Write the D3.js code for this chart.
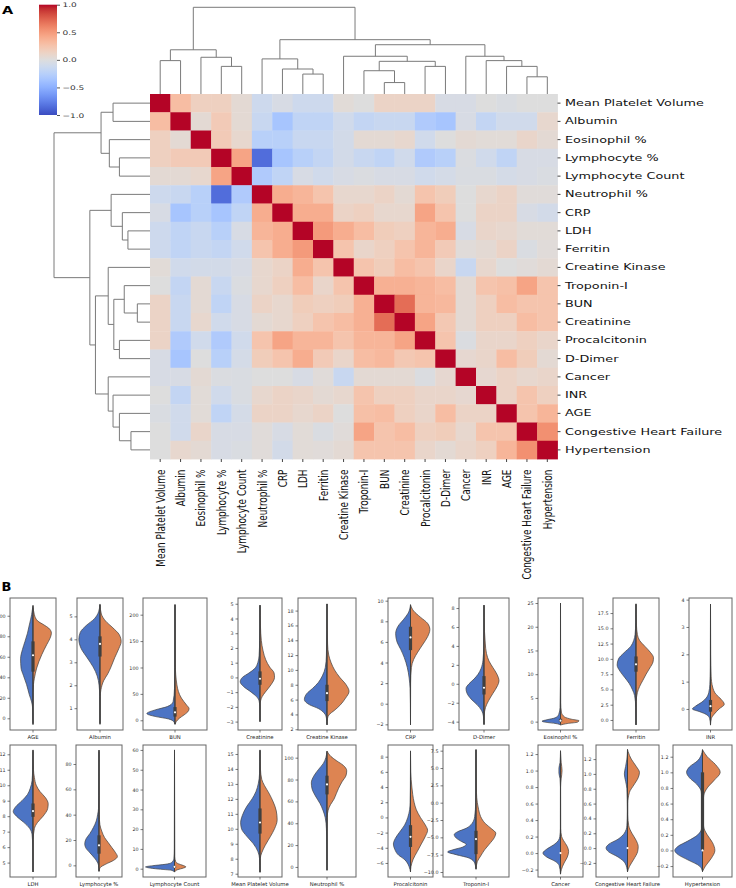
<!DOCTYPE html>
<html><head><meta charset="utf-8">
<script src="https://cdn.jsdelivr.net/npm/d3@7"></script>
<style>body{margin:0;background:#fff;} svg{display:block;font-family:"DejaVu Sans",sans-serif;}</style>
</head><body><svg id="c" width="736" height="888"></svg>
<script>
// ---------- Panel A data ----------
const labels = ["Mean Platelet Volume","Albumin","Eosinophil %","Lymphocyte %","Lymphocyte Count","Neutrophil %","CRP","LDH","Ferritin","Creatine Kinase","Troponin-I","BUN","Creatinine","Procalcitonin","D-Dimer","Cancer","INR","AGE","Congestive Heart Failure","Hypertension"];
// upper triangle of correlation matrix, row i holds columns i..19
const corrUpper = [
 [1,0.30,0.15,0.15,0.05,-0.12,-0.05,-0.12,-0.12,0.03,0.0,0.12,0.12,0.12,-0.05,-0.05,0.0,-0.03,0.0,0.0],
 [1,0.05,0.2,0.05,-0.15,-0.35,-0.2,-0.2,-0.1,-0.18,-0.15,-0.15,-0.3,-0.35,-0.05,-0.18,-0.1,-0.1,0.08],
 [1,0.2,0.08,-0.25,-0.25,-0.15,-0.15,-0.08,0.05,0.05,0.08,-0.1,0.0,0.05,0.03,0.03,0.1,0.05],
 [1,0.45,-0.85,-0.35,-0.25,-0.18,-0.08,-0.15,-0.2,-0.1,-0.3,-0.25,-0.02,-0.1,-0.2,-0.05,-0.05],
 [1,-0.3,-0.2,-0.05,-0.1,-0.05,-0.02,-0.05,-0.05,-0.1,-0.07,-0.03,-0.03,-0.07,-0.05,-0.03],
 [1,0.4,0.35,0.25,0.08,0.08,0.12,0.05,0.25,0.18,0.0,0.08,0.12,0.02,0.02],
 [1,0.4,0.4,0.12,0.15,0.08,0.08,0.45,0.25,0.0,0.12,0.12,-0.05,-0.08],
 [1,0.5,0.4,0.3,0.18,0.15,0.35,0.4,-0.05,0.1,0.08,0.03,0.03],
 [1,0.25,0.1,0.15,0.25,0.35,0.2,0.02,0.05,0.12,-0.03,0.02],
 [1,0.25,0.18,0.3,0.25,0.1,-0.15,0.08,0.0,0.02,0.05],
 [1,0.38,0.38,0.35,0.3,0.05,0.25,0.28,0.45,0.25],
 [1,0.7,0.35,0.33,0.05,0.15,0.3,0.25,0.25],
 [1,0.45,0.22,0.05,0.15,0.15,0.3,0.25],
 [1,0.25,-0.02,0.1,0.1,0.15,0.1],
 [1,0.07,0.1,0.3,0.18,0.05],
 [1,0.07,0.12,0.08,0.1],
 [1,0.12,0.25,0.15],
 [1,0.25,0.35],
 [1,0.55],
 [1]
];
// hierarchical linkage: [childA, childB, distance]; leaves 0..19, merged nodes 20..
const linkage = [
 [11,12,0.113],[18,19,0.17],[7,8,0.197],[10,20,0.23],[6,22,0.247],[3,4,0.273],[13,14,0.273],
 [17,21,0.273],[23,26,0.323],[0,1,0.33],[16,27,0.33],[5,24,0.347],[2,25,0.363],[9,28,0.373],
 [15,30,0.373],[29,32,0.437],[33,34,0.487],[31,36,0.537],[35,37,0.857]
];
const cbarTicks = [1.0,0.5,0.0,-0.5,-1.0];
const coolwarm = ["#3b4cc0","#445acc","#4d68d7","#5775e1","#6282ea","#6c8ef1","#779af7","#82a5fb","#8db0fe","#98b9ff","#a3c2ff","#aec9fd","#b8d0f9","#c2d5f4","#ccd9ee","#d5dbe6","#dddddd","#e5d8d1","#ecd3c5","#f1ccb9","#f5c4ad","#f7bba0","#f7b194","#f7a687","#f49a7b","#f18d6f","#ec7f63","#e57058","#de604d","#d55042","#cb3e38","#c0282f","#b40426"];

// ---------- Panel B data ----------
const violinVars = ["AGE","Albumin","BUN","Creatinine","Creatine Kinase","CRP","D-Dimer","Eosinophil %","Ferritin","INR",
 "LDH","Lymphocyte %","Lymphocyte Count","Mean Platelet Volume","Neutrophil %","Procalcitonin","Troponin-I","Cancer","Congestive Heart Failure","Hypertension"];
const violinDomains = [[-11.4,117.3],[0.05,5.8],[-18.4,231.6],[-3.57,5.39],[1.9,19.7],[-2.55,10.26],[-4.88,9.06],[-1.76,26.06],[-1.64,19.96],[-0.77,4.06],
 [4.07,12.6],[-9.2,95],[-4.2,62.5],[6.78,15.6],[-9.2,111.6],[-7.85,9.54],[-10.72,8.32],[-0.29,1.31],[-0.39,1.39],[-0.34,1.35]];
const violinTicks = [[0,20,40,60,80,100],[1,2,3,4,5],[0,50,100,150,200],[-3,-2,-1,0,1,2,3,4,5],[2,4,6,8,10,12,14,16,18],
 [-2,0,2,4,6,8,10],[-4,-2,0,2,4,6,8],[0,5,10,15,20,25],[0,2.5,5,7.5,10,12.5,15,17.5],[0,1,2,3,4],
 [5,6,7,8,9,10,11,12],[0,20,40,60,80],[0,10,20,30,40,50,60],[7,8,9,10,11,12,13,14,15],[0,20,40,60,80,100],
 [-6,-4,-2,0,2,4,6,8],[-10,-7.5,-5,-2.5,0,2.5,5,7.5],[-0.2,0,0.2,0.4,0.6,0.8,1.0,1.2],[-0.2,0,0.2,0.4,0.6,0.8,1.0,1.2],[-0.2,0,0.2,0.4,0.6,0.8,1.0,1.2]];
const violinTickDecimals = [0,0,0,0,0,0,0,0,1,0, 0,0,0,0,0,0,1,1,1,1];
// [value, half-width as fraction of panel width]
const blueProfiles = [
 [[-6,0],[10,0.008],[16,0.03],[23,0.08],[33,0.14],[42,0.21],[49,0.26],[58,0.27],[67,0.23],[75,0.174],[83,0.12],[91,0.08],[101,0.03],[110,0]],
 [[0.3,0],[1.5,0.005],[2.0,0.02],[2.4,0.06],[2.8,0.15],[3.2,0.28],[3.6,0.41],[4.0,0.46],[4.3,0.43],[4.6,0.3],[4.9,0.12],[5.2,0.03],[5.54,0]],
 [[-7.6,0],[-2.5,0.02],[2.5,0.1],[7,0.3],[12.7,0.44],[20,0.3],[26,0.12],[35,0.03],[60,0.008],[100,0.004],[219,0]],
 [[-3.0,0],[-2,0.005],[-1.6,0.02],[-1.3,0.08],[-1.0,0.2],[-0.6,0.38],[-0.3,0.45],[0,0.4],[0.3,0.25],[0.6,0.12],[1.0,0.05],[1.5,0.02],[2.5,0.008],[4.9,0]],
 [[2.6,0],[3.5,0.01],[4.2,0.05],[4.8,0.15],[5.3,0.3],[6.0,0.39],[6.8,0.35],[7.5,0.25],[8.3,0.15],[9.2,0.08],[10.3,0.03],[12,0.01],[18.9,0]],
 [[-2.05,0],[0,0.003],[1.5,0.01],[2.5,0.03],[3.5,0.07],[4.5,0.14],[5.3,0.22],[6,0.3],[6.8,0.33],[7.5,0.28],[8.2,0.15],[8.8,0.05],[9.6,0]],
 [[-4.3,0],[-3.5,0.01],[-2.8,0.05],[-2.2,0.14],[-1.6,0.26],[-1,0.34],[-0.5,0.36],[0,0.3],[0.5,0.2],[1,0.12],[1.6,0.06],[2.5,0.02],[4,0.005],[8.3,0]],
 [[-0.7,0],[-0.4,0.1],[-0.1,0.35],[0.1,0.41],[0.4,0.3],[0.8,0.12],[1.5,0.04],[3,0.01],[8,0.002],[25,0]],
 [[-0.8,0],[2,0.005],[4,0.03],[5,0.08],[6,0.15],[7,0.25],[8,0.35],[9,0.41],[10,0.38],[11,0.26],[12,0.12],[13,0.05],[14,0.02],[16,0.005],[19,0]],
 [[-0.59,0],[-0.35,0.02],[-0.2,0.1],[-0.1,0.25],[0,0.42],[0.1,0.35],[0.25,0.2],[0.4,0.1],[0.6,0.04],[0.9,0.015],[1.5,0.005],[3.84,0]],
 [[4.4,0],[6,0.005],[6.8,0.02],[7.2,0.07],[7.6,0.2],[8,0.36],[8.3,0.43],[8.6,0.38],[9,0.24],[9.4,0.12],[9.8,0.06],[10.3,0.02],[11,0.008],[12.28,0]],
 [[-4.75,0],[0,0.01],[5,0.08],[10,0.2],[14,0.29],[17,0.31],[21,0.28],[25,0.2],[30,0.12],[35,0.06],[40,0.03],[45,0.01],[55,0.005],[91,0]],
 [[-1.7,0],[-0.8,0.05],[-0.2,0.25],[0.5,0.42],[0.9,0.46],[1.5,0.35],[2.2,0.15],[3,0.05],[5,0.01],[10,0.003],[60,0]],
 [[7.1,0],[8,0.01],[8.5,0.05],[9,0.15],[9.5,0.3],[10,0.42],[10.4,0.44],[10.9,0.4],[11.5,0.3],[12,0.18],[12.5,0.09],[13,0.04],[13.7,0.01],[15.27,0]],
 [[-3,0],[20,0.003],[35,0.01],[45,0.03],[52,0.07],[58,0.12],[65,0.2],[72,0.26],[77,0.27],[83,0.23],[89,0.15],[95,0.06],[100,0.02],[106,0]],
 [[-7.19,0],[-6.5,0.03],[-6.0,0.07],[-5.5,0.14],[-5.0,0.26],[-4.2,0.35],[-3.5,0.38],[-2.8,0.34],[-2,0.25],[-1,0.13],[0,0.06],[1,0.02],[2,0.008],[4,0.003],[8.76,0]],
 [[-9.6,0],[-8.7,0.02],[-8.0,0.1],[-7.5,0.3],[-7.1,0.43],[-6.8,0.35],[-6.4,0.2],[-6.0,0.15],[-5.6,0.22],[-5.1,0.3],[-4.6,0.33],[-4.2,0.28],[-3.7,0.15],[-3.0,0.06],[-2,0.02],[0,0.005],[7.66,0]],
 [[-0.255,0],[-0.15,0.03],[-0.1,0.12],[-0.05,0.3],[0,0.39],[0.05,0.3],[0.1,0.15],[0.15,0.05],[0.2,0.015],[0.3,0.003],[0.8,0.002],[0.9,0.01],[0.97,0.035],[1.03,0.035],[1.1,0.01],[1.24,0]],
 [[-0.32,0],[-0.2,0.04],[-0.12,0.15],[-0.05,0.3],[0,0.34],[0.05,0.3],[0.12,0.15],[0.2,0.05],[0.3,0.01],[0.5,0.003],[0.8,0.01],[0.9,0.03],[1.0,0.05],[1.1,0.03],[1.2,0.01],[1.33,0]],
 [[-0.27,0],[-0.2,0.05],[-0.12,0.25],[-0.05,0.42],[0,0.47],[0.05,0.42],[0.12,0.25],[0.2,0.08],[0.3,0.01],[0.5,0.003],[0.75,0.02],[0.85,0.1],[0.93,0.22],[1.0,0.27],[1.07,0.22],[1.15,0.08],[1.25,0.01],[1.29,0]]
];
const orangeProfiles = [
 [[-6,0],[25,0.003],[33,0.01],[39,0.03],[49,0.08],[62,0.19],[72,0.30],[78,0.37],[83,0.40],[88,0.34],[91,0.24],[95,0.1],[101,0.03],[110,0]],
 [[0.3,0],[1.5,0.005],[1.8,0.02],[2.2,0.08],[2.5,0.17],[2.8,0.24],[3.2,0.32],[3.6,0.41],[3.9,0.46],[4.2,0.42],[4.5,0.28],[4.8,0.12],[5.1,0.03],[5.5,0]],
 [[-7.6,0],[-2.5,0.02],[4,0.07],[10,0.14],[16,0.2],[22,0.22],[29,0.18],[42,0.1],[67,0.03],[105,0.005],[219,0]],
 [[-3,0],[-1.8,0.005],[-1.3,0.05],[-1,0.12],[-0.5,0.25],[0,0.33],[0.3,0.32],[0.7,0.22],[1.2,0.13],[1.8,0.07],[2.5,0.03],[3.5,0.01],[4.9,0]],
 [[2.6,0],[3.5,0.01],[4,0.04],[4.5,0.12],[5.2,0.22],[6.2,0.32],[7.1,0.38],[8,0.33],[9,0.22],[10,0.13],[11,0.07],[12,0.03],[13.5,0.01],[18.9,0]],
 [[-2.05,0],[2,0.003],[3.5,0.02],[4.3,0.07],[5,0.16],[5.8,0.28],[6.5,0.38],[7.2,0.43],[7.8,0.38],[8.4,0.22],[9,0.07],[9.6,0]],
 [[-4.3,0],[-3.3,0.005],[-2.5,0.03],[-1.8,0.09],[-1,0.18],[-0.2,0.27],[0.3,0.3],[1,0.26],[1.7,0.18],[2.4,0.1],[3.2,0.05],[4.3,0.025],[5.5,0.01],[7,0.004],[8.3,0]],
 [[-0.7,0],[-0.4,0.15],[-0.1,0.38],[0.2,0.41],[0.5,0.25],[1,0.09],[2,0.02],[4,0.005],[25,0]],
 [[-0.8,0],[3,0.005],[4.5,0.03],[5.5,0.08],[6.5,0.15],[7.5,0.22],[8.5,0.3],[9.5,0.37],[10.2,0.38],[11,0.32],[12,0.2],[13,0.08],[14,0.03],[15.5,0.01],[19,0]],
 [[-0.59,0],[-0.35,0.02],[-0.2,0.08],[0,0.2],[0.17,0.32],[0.35,0.25],[0.55,0.12],[0.8,0.05],[1.2,0.015],[2,0.005],[3.84,0]],
 [[4.4,0],[6.5,0.005],[7.2,0.03],[7.6,0.1],[8,0.22],[8.5,0.32],[8.8,0.33],[9.2,0.27],[9.6,0.15],[10,0.07],[10.5,0.03],[11,0.01],[12.28,0]],
 [[-4.75,0],[-2,0.02],[1,0.15],[4,0.32],[7,0.4],[10,0.36],[14,0.28],[18,0.2],[22,0.12],[27,0.06],[32,0.02],[40,0.005],[91,0]],
 [[-1.7,0],[-0.5,0.05],[0.3,0.14],[0.9,0.18],[1.6,0.14],[2.5,0.06],[3.5,0.02],[6,0.005],[60,0]],
 [[7.1,0],[8,0.005],[8.4,0.04],[8.9,0.12],[9.5,0.24],[10,0.33],[10.6,0.39],[11.2,0.37],[11.8,0.3],[12.4,0.2],[12.9,0.1],[13.3,0.04],[14,0.01],[15.27,0]],
 [[-3,0],[45,0.003],[52,0.02],[57,0.06],[62,0.12],[67,0.16],[72,0.2],[78,0.26],[84,0.33],[88,0.34],[93,0.28],[97,0.17],[101,0.07],[106,0]],
 [[-7.19,0],[-6.5,0.01],[-5.5,0.06],[-4.5,0.15],[-3.5,0.24],[-2.5,0.33],[-1.7,0.38],[-1,0.33],[0,0.22],[1,0.13],[2,0.08],[3,0.05],[4,0.03],[5,0.015],[6,0.006],[8.76,0]],
 [[-9.6,0],[-8.5,0.02],[-7.7,0.07],[-6.8,0.13],[-6,0.2],[-5,0.28],[-4.4,0.3],[-3.8,0.24],[-3,0.14],[-2,0.07],[-1,0.04],[0,0.02],[1.5,0.007],[7.66,0]],
 [[-0.255,0],[-0.2,0.02],[-0.12,0.08],[-0.05,0.15],[0.02,0.18],[0.08,0.15],[0.15,0.07],[0.2,0.025],[0.3,0.005],[0.8,0.003],[0.9,0.015],[1.0,0.035],[1.1,0.015],[1.24,0]],
 [[-0.32,0],[-0.25,0.03],[-0.15,0.1],[-0.05,0.16],[0.02,0.17],[0.1,0.14],[0.2,0.07],[0.3,0.02],[0.45,0.005],[0.6,0.005],[0.75,0.03],[0.85,0.1],[0.95,0.17],[1.02,0.19],[1.1,0.14],[1.2,0.06],[1.3,0.01],[1.33,0]],
 [[-0.27,0],[-0.2,0.05],[-0.1,0.15],[0,0.21],[0.1,0.17],[0.2,0.08],[0.3,0.02],[0.5,0.003],[0.7,0.02],[0.8,0.08],[0.9,0.2],[1.0,0.3],[1.1,0.22],[1.2,0.08],[1.29,0]]
];
// [whisker low, q1, median, q3, whisker high]
const boxStats = [[-5,45.5,61.5,75,108],[0.35,3.25,3.8,4.13,5.5],[-7,7,15,25,219],[-3.0,-0.5,-0.09,0.41,4.9],[2.6,5.8,6.86,8.0,18.9],
 [-2.0,5.2,6.43,7.47,9.6],[-4.3,-1.13,-0.42,0.81,8.3],[-0.5,0.0,0.2,0.6,24.8],[-0.8,7.9,9.1,10.4,18.9],[-0.55,-0.1,0.1,0.33,3.8],
 [4.4,7.96,8.33,8.82,12.2],[-4.5,9.2,15.8,23.7,90],[-1.5,0.5,0.95,1.4,59.5],[7.1,9.68,10.42,11.36,15.2],[-3,66.4,75.5,83.5,105],
 [-7.1,-3.89,-2.56,-1.02,8.7],[-9.5,-7.42,-5.25,-4.05,7.6],[-0.25,0,0,0,1.23],[-0.32,0,0,0,1.32],[-0.27,0,0,1,1.28]];

// ---------- layout ----------
const panelX = [[10,56],[77,123],[143,207],[238,282],[298,356],[388,433],[459,509],[538,583],[613,659],[689,732],
 [10,56],[76,122],[143,206],[238,282],[298,356],[388,433],[443,509],[538,583],[596,659],[673,732]];
const rowY = [[598,730],[745,877]];
const BLUE = "#4c74c4", ORANGE = "#dd8452", GRAY = "#3f3f3f";

const svg = d3.select("#c");
const n = labels.length;
const corr = d3.range(n).map(i => d3.range(n).map(j => i <= j ? corrUpper[i][j-i] : corrUpper[j][i-j]));
const color = d3.scaleLinear().domain(coolwarm.map((c,i) => -1 + 2*i/(coolwarm.length-1))).range(coolwarm).interpolate(d3.interpolateRgb).clamp(true);

const SY = 0.7; // vertical text squash of panel A
const xH = d3.scaleBand().domain(d3.range(n)).range([150, 557.5]);
const yH = d3.scaleBand().domain(d3.range(n)).range([94, 459]);

// heatmap
const cells = [];
corr.forEach((row,i) => row.forEach((v,j) => cells.push({i,j,v})));
svg.append("g").selectAll("rect").data(cells).join("rect")
  .attr("x", d => xH(d.j)).attr("y", d => yH(d.i))
  .attr("width", xH.bandwidth()+0.4).attr("height", yH.bandwidth()+0.4)
  .attr("fill", d => color(d.v));

// right axis
const ra = svg.append("g").attr("transform", `translate(${xH.range()[1]},0)`)
  .call(d3.axisRight(yH).tickSize(3).tickPadding(4.5).tickFormat(i => labels[i]));
ra.select(".domain").remove();
ra.selectAll("line").attr("stroke", "#444");
ra.selectAll("text").attr("font-size", 12.8).attr("fill", "#111").attr("font-family", "DejaVu Sans")
  .attr("transform", `scale(1,${SY})`);

// bottom axis
const ba = svg.append("g").attr("transform", `translate(0,${yH.range()[1]})`)
  .call(d3.axisBottom(xH).tickSize(3).tickFormat(i => labels[i]));
ba.select(".domain").remove();
ba.selectAll("line").attr("stroke", "#444");
ba.selectAll("text").attr("font-size", 12.8).attr("fill", "#111").attr("font-family", "DejaVu Sans")
  .attr("x", 0).attr("y", 0).attr("dy", "0.35em").attr("text-anchor", "end")
  .attr("transform", `translate(0,10.5) scale(1,${SY}) rotate(-90)`);

// dendrograms
const nodes = d3.range(n).map(i => ({pos: i, h: 0}));
linkage.forEach(([a,b,h]) => nodes.push({pos: (nodes[a].pos + nodes[b].pos)/2, h, a, b}));
const maxH = d3.max(linkage, d => d[2]);
const leafX = d3.scaleLinear().domain([0, n-1]).range([xH(0)+xH.bandwidth()/2, xH(n-1)+xH.bandwidth()/2]);
const leafY = d3.scaleLinear().domain([0, n-1]).range([yH(0)+yH.bandwidth()/2, yH(n-1)+yH.bandwidth()/2]);
const dTop = d3.scaleLinear().domain([0, maxH]).range([94, 7.3]);
const dLeft = d3.scaleLinear().domain([0, maxH]).range([150, 54]);
const merges = nodes.slice(n);
svg.append("g").selectAll("path").data(merges).join("path")
  .attr("fill", "none").attr("stroke", "#7a7a7a").attr("stroke-width", 1)
  .attr("d", d => { const A = nodes[d.a], B = nodes[d.b];
    return `M${leafX(A.pos)},${dTop(A.h)}V${dTop(d.h)}H${leafX(B.pos)}V${dTop(B.h)}`; });
svg.append("g").selectAll("path").data(merges).join("path")
  .attr("fill", "none").attr("stroke", "#7a7a7a").attr("stroke-width", 1)
  .attr("d", d => { const A = nodes[d.a], B = nodes[d.b];
    return `M${dLeft(A.h)},${leafY(A.pos)}H${dLeft(d.h)}V${leafY(B.pos)}H${dLeft(B.h)}`; });

// colorbar
const cbY = d3.scaleLinear().domain([-1, 1]).range([115, 4.7]);
const grad = svg.append("defs").append("linearGradient").attr("id", "cw")
  .attr("x1", 0).attr("y1", 1).attr("x2", 0).attr("y2", 0);
grad.selectAll("stop").data(coolwarm).join("stop")
  .attr("offset", (d,i) => i/(coolwarm.length-1)).attr("stop-color", d => d);
svg.append("rect").attr("x", 39).attr("y", cbY(1)).attr("width", 18).attr("height", cbY(-1)-cbY(1)).attr("fill", "url(#cw)");
const ca = svg.append("g").attr("transform", "translate(57,0)")
  .call(d3.axisRight(cbY).tickValues(cbarTicks).tickSize(3).tickPadding(2.5).tickFormat(d3.format(".1f")));
ca.select(".domain").remove();
ca.selectAll("line").attr("stroke", "#555");
ca.selectAll("text").attr("font-size", 9).attr("fill", "#333").attr("font-family", "DejaVu Sans")
  .attr("transform", `scale(1,${SY})`);

// panel letters
svg.append("text").attr("transform", `translate(2,13.5) scale(1,0.68)`).attr("font-size", 14.5).attr("font-weight", "bold").attr("font-family", "DejaVu Sans").text("A");
svg.append("text").attr("x", 1.5).attr("y", 591).attr("font-size", 13).attr("font-weight", "bold").attr("font-family", "DejaVu Sans").text("B");

// ---------- Panel B ----------
violinVars.forEach((name, i) => {
  const [x0, x1] = panelX[i];
  const [top, bottom] = rowY[i < 10 ? 0 : 1];
  const fw = x1 - x0, cx = (x0 + x1)/2;
  const y = d3.scaleLinear().domain(violinDomains[i]).range([bottom, top]);
  const g = svg.append("g");
  const blueA = d3.area().curve(d3.curveMonotoneY).y(d => y(d[0])).x0(cx).x1(d => cx - d[1]*fw);
  const orA = d3.area().curve(d3.curveMonotoneY).y(d => y(d[0])).x0(cx).x1(d => cx + d[1]*fw);
  g.append("path").attr("d", blueA(blueProfiles[i])).attr("fill", BLUE).attr("stroke", GRAY).attr("stroke-width", 0.7);
  g.append("path").attr("d", orA(orangeProfiles[i])).attr("fill", ORANGE).attr("stroke", GRAY).attr("stroke-width", 0.7);
  const [lo, q1, med, q3, hi] = boxStats[i];
  g.append("line").attr("x1", cx).attr("x2", cx).attr("y1", y(lo)).attr("y2", y(hi)).attr("stroke", GRAY).attr("stroke-width", 1);
  g.append("rect").attr("x", cx-1.6).attr("width", 3.2).attr("y", y(q3)).attr("height", Math.max(0.01, y(q1)-y(q3))).attr("fill", GRAY);
  g.append("circle").attr("cx", cx).attr("cy", y(med)).attr("r", 1.1).attr("fill", "#fff");
  g.append("rect").attr("x", x0).attr("y", top).attr("width", fw).attr("height", bottom-top)
    .attr("fill", "none").attr("stroke", "#666").attr("stroke-width", 1);
  const ax = g.append("g").attr("transform", `translate(${x0},0)`)
    .call(d3.axisLeft(y).tickValues(violinTicks[i]).tickSize(2.5).tickPadding(2)
      .tickFormat(d3.format(`.${violinTickDecimals[i]}f`)));
  ax.select(".domain").remove();
  ax.selectAll("line").attr("stroke", "#444").attr("stroke-width", 0.7);
  ax.selectAll("text").attr("font-size", 4.8).attr("fill", "#333").attr("font-family", "DejaVu Sans");
  g.append("line").attr("x1", cx).attr("x2", cx).attr("y1", bottom).attr("y2", bottom+2.5).attr("stroke", "#444").attr("stroke-width", 0.7);
  g.append("text").attr("x", cx).attr("y", bottom+9.3).attr("text-anchor", "middle")
    .attr("font-size", 5.3).attr("fill", "#222").attr("font-family", "DejaVu Sans").text(name);
});
</script></body></html>
